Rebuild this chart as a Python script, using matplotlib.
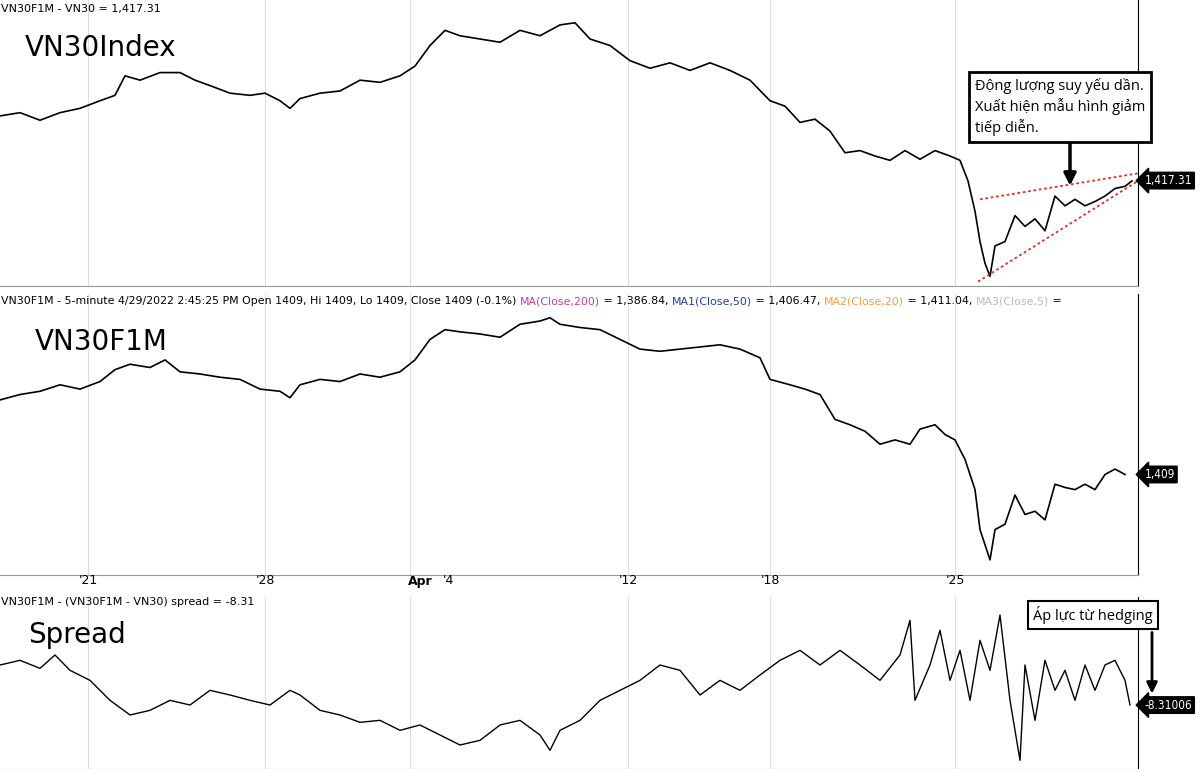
import matplotlib
matplotlib.use("Agg")
import matplotlib.pyplot as plt

vn30_x = [0,20,40,60,80,100,115,125,140,160,180,195,210,230,250,265,280,290,300,320,340,360,380,400,415,430,445,460,480,500,520,540,560,575,590,610,630,650,670,690,710,730,750,770,785,800,815,830,845,860,875,890,905,920,935,950,960,968,975,980,985,990,995,1005,1015,1025,1035,1045,1055,1065,1075,1085,1095,1105,1115,1125,1132]
vn30 = [1477,1480,1473,1480,1484,1491,1496,1514,1510,1517,1517,1510,1505,1498,1496,1498,1491,1484,1493,1498,1500,1510,1508,1514,1523,1542,1556,1551,1548,1545,1556,1551,1561,1563,1548,1542,1528,1521,1526,1519,1526,1519,1510,1491,1486,1471,1474,1463,1443,1445,1440,1436,1445,1437,1445,1440,1436,1417,1389,1361,1341,1329,1357,1361,1385,1375,1382,1371,1403,1394,1400,1394,1398,1403,1410,1412,1417]

f1m_x = [0,20,40,60,80,100,115,130,150,165,180,200,220,240,260,280,290,300,320,340,360,380,400,415,430,445,460,480,500,520,540,550,560,580,600,620,640,660,680,700,720,740,760,770,790,805,820,835,850,865,880,895,910,920,935,945,955,965,975,980,985,990,995,1005,1015,1025,1035,1045,1055,1065,1075,1085,1095,1105,1115,1125]
f1m = [1478,1483,1486,1492,1488,1495,1506,1511,1508,1515,1504,1502,1499,1497,1488,1486,1480,1492,1497,1495,1502,1499,1504,1515,1534,1543,1541,1539,1536,1548,1551,1554,1548,1545,1543,1534,1525,1523,1525,1527,1529,1525,1517,1497,1492,1488,1483,1460,1455,1449,1437,1441,1437,1451,1455,1446,1441,1423,1395,1358,1344,1330,1358,1363,1390,1372,1375,1367,1400,1397,1395,1400,1395,1409,1414,1409]

spr_x = [0,20,40,55,70,90,110,130,150,170,190,210,230,250,270,290,300,320,340,360,380,400,420,440,460,480,500,520,540,550,560,580,600,620,640,660,680,700,720,740,760,780,800,820,840,860,880,900,910,915,930,940,950,960,970,980,990,1000,1010,1020,1025,1035,1045,1055,1065,1075,1085,1095,1105,1115,1125,1130]
spread = [-2.3,-1.6,-2.8,-0.8,-3.1,-4.6,-7.6,-9.8,-9.1,-7.6,-8.3,-6.1,-6.8,-7.6,-8.3,-6.1,-6.8,-9.1,-9.8,-10.9,-10.6,-12.1,-11.3,-12.8,-14.3,-13.6,-11.3,-10.6,-12.8,-15.1,-12.1,-10.6,-7.6,-6.1,-4.6,-2.3,-3.1,-6.8,-4.6,-6.1,-3.8,-1.6,-0.1,-2.3,-0.1,-2.3,-4.6,-0.8,4.4,-7.6,-2.3,2.9,-4.6,-0.1,-7.6,1.4,-3.1,5.2,-7.6,-16.6,-2.3,-10.6,-1.6,-6.1,-3.1,-7.6,-2.3,-6.1,-2.3,-1.6,-4.6,-8.3]

tick_pos = [88, 265, 420, 448, 628, 770, 955]
tick_lab = ["'21", "'28", "Apr", "'4", "'12", "'18", "'25"]
grid_pos = [88, 265, 410, 628, 770, 955]

W, H = 1200, 769
fig = plt.figure(figsize=(12, 7.69), dpi=100)
fig.patch.set_facecolor("white")
XR = 1138

def mk(top, bot):
    ax = fig.add_axes([0, 1 - bot / H, XR / W, (bot - top) / H])
    ax.set_xlim(0, XR)
    for g in grid_pos:
        ax.axvline(g, color="#dddddd", lw=0.8, zorder=0)
    ax.set_xticks([]); ax.set_yticks([])
    for s in ["top", "left"]:
        ax.spines[s].set_visible(False)
    ax.spines["right"].set_color("black")
    ax.spines["bottom"].set_color("#999999")
    return ax

a1 = mk(0, 286); a1.set_ylim(1320, 1584)
a2 = mk(294, 575); a2.set_ylim(1316, 1576)
a3 = mk(597, 769); a3.set_ylim(-17.9, 7.9)

a1.plot(vn30_x, vn30, color="black", lw=1.2)
a2.plot(f1m_x, f1m, color="black", lw=1.2)
a3.plot(spr_x, spread, color="black", lw=1.0)

a1.plot([980, 1138], [1400, 1424], ls=(0, (1.5, 1.5)), color="#e03020", lw=1.3)
a1.plot([978, 1138], [1324, 1417], ls=(0, (1.5, 1.5)), color="#e03020", lw=1.3)

def tag(ax, y, txt):
    ax.annotate(txt, xy=(1.0, y), xycoords=("axes fraction", "data"), xytext=(5, 0),
                textcoords="offset points", va="center", ha="left", color="white",
                fontsize=8.5, fontstretch="condensed",
                bbox=dict(boxstyle="larrow,pad=0.15", fc="black", ec="black"), annotation_clip=False)
tag(a1, 1417.31, "1,417.31")
tag(a2, 1409, "1,409")
tag(a3, -8.31, "-8.31006")

fig.text(0.001, 1 - 9 / H, "VN30F1M - VN30 = 1,417.31", fontsize=8, va="center")
parts = [("VN30F1M - 5-minute 4/29/2022 2:45:25 PM Open 1409, Hi 1409, Lo 1409, Close 1409 (-0.1%) ", "black"),
         ("MA(Close,200)", "#c040a0"), (" = 1,386.84, ", "black"), ("MA1(Close,50)", "#2040a0"),
         (" = 1,406.47, ", "black"), ("MA2(Close,20)", "#f0a040"), (" = 1,411.04, ", "black"),
         ("MA3(Close,5)", "#bbbbbb"), (" =", "black")]
prev = fig.text(0.001, 1 - 301 / H, parts[0][0], fontsize=7.9, color=parts[0][1], va="center")
for t, c in parts[1:]:
    prev = fig.text(0, 0, t, fontsize=7.9, color=c, va="center")
    prev_art = prev
for i in range(1, len(parts)):
    pass
# chain via annotate for exact placement
fig.texts = fig.texts[:2]
prev = fig.texts[1]
for t, c in parts[1:]:
    prev = fig.add_artist(matplotlib.text.Annotation(t, xy=(1, 0.5), xycoords=prev, xytext=(0, 0),
                          textcoords="offset points", fontsize=7.9, color=c, va="center", ha="left"))
fig.text(0.001, 1 - 602 / H, "VN30F1M - (VN30F1M - VN30) spread = -8.31", fontsize=8, va="center")

fig.text(25 / W, 1 - 48 / H, "VN30Index", fontsize=20, va="center")
fig.text(35 / W, 1 - 342 / H, "VN30F1M", fontsize=20, va="center")
fig.text(28 / W, 1 - 635 / H, "Spread", fontsize=20, va="center")

for p, l in zip(tick_pos, tick_lab):
    fig.text(p / W, 1 - 581 / H, l, fontsize=9, ha="center", va="center",
             fontweight="bold" if l == "Apr" else "normal")

fig.text(975 / W, 1 - 107 / H, "Động lượng suy yếu dần.\nXuất hiện mẫu hình giảm\ntiếp diễn.",
         fontsize=10.5, va="center", ha="left", linespacing=1.3, fontfamily="Open Sans",
         bbox=dict(boxstyle="square,pad=0.4", fc="white", ec="black", lw=2))
a1.annotate("", xy=(1070, 1410), xytext=(1070, 1455),
            arrowprops=dict(arrowstyle="-|>", color="black", lw=2.5, mutation_scale=18))
fig.text(1033 / W, 1 - 615 / H, "Áp lực từ hedging", fontsize=10.5, va="center", ha="left",
         fontfamily="Open Sans", bbox=dict(boxstyle="square,pad=0.35", fc="white", ec="black", lw=1.5))
a3.annotate("", xy=(1152, -7.0), xytext=(1152, 3.0),
            arrowprops=dict(arrowstyle="-|>", color="black", lw=2, mutation_scale=16), annotation_clip=False)

fig.savefig("out.png", dpi=100)
